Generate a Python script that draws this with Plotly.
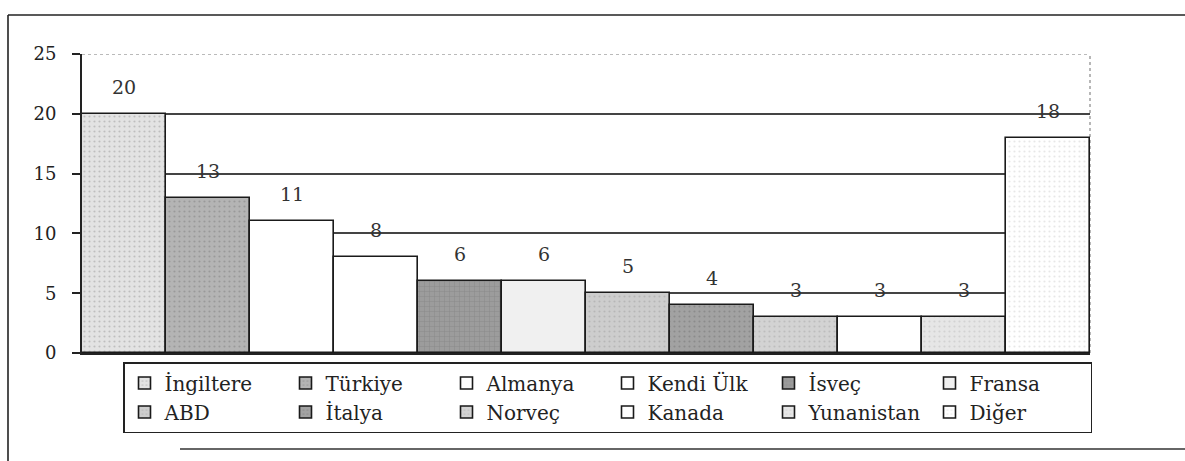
import plotly.graph_objects as go

# Countries and counts
countries = ["İngiltere", "Türkiye", "Almanya", "Kendi Ülk", "İsveç", "Fransa",
             "ABD", "İtalya", "Norveç", "Kanada", "Yunanistan", "Diğer"]
counts = [20, 13, 11, 8, 6, 6, 5, 4, 3, 3, 3, 18]
y_ticks = [0, 5, 10, 15, 20, 25]

# Fill styling per country: (base colour, pattern shape, pattern colour)
fills = [
    ("#e3e3e3", ".", "#9a9a9a"),
    ("#b4b4b4", ".", "#7d7d7d"),
    ("#ffffff", "", "#ffffff"),
    ("#ffffff", "", "#ffffff"),
    ("#9c9c9c", "+", "#6c6c6c"),
    ("#f0f0f0", "", "#f0f0f0"),
    ("#cdcdcd", ".", "#a0a0a0"),
    ("#a2a2a2", ".", "#747474"),
    ("#d3d3d3", ".", "#a8a8a8"),
    ("#ffffff", "", "#ffffff"),
    ("#e6e6e6", ".", "#bdbdbd"),
    ("#ffffff", ".", "#cfcfcf"),
]

W, H = 1185, 461
ML, MR, MT, MB = 82, 95, 54, 108
PW, PH = W - ML - MR, H - MT - MB


def px(x):
    return (x - ML) / PW


def py(y):
    return (H - MB - y) / PH


SERIF = "DejaVu Serif"

fig = go.Figure()
for name, val, (col, shp, fg) in zip(countries, counts, fills):
    fig.add_trace(go.Bar(
        x=[name], y=[val], name=name,
        marker=dict(color=col,
                    line=dict(color="#1a1a1a", width=1.6),
                    pattern=dict(shape=shp, fgcolor=fg, size=5, solidity=0.15)),
    ))

# Value labels above each bar
for name, val in zip(countries, counts):
    fig.add_annotation(x=name, y=val, text=str(val), showarrow=False,
                       yshift=27, font=dict(family=SERIF, size=19, color="#333333"))

shapes = [
    # back wall top (dotted) and right edge (dotted)
    dict(type="line", xref="paper", yref="y", x0=0, x1=1, y0=25, y1=25,
         line=dict(color="#777777", width=1.2, dash="dot"), layer="below"),
    dict(type="line", xref="paper", yref="paper", x0=1, x1=1, y0=0, y1=1,
         line=dict(color="#888888", width=1.2, dash="dot"), layer="below"),
    # outer frame
    dict(type="line", xref="paper", yref="paper", x0=px(8), x1=px(W), y0=py(15), y1=py(15),
         line=dict(color="#222222", width=1.6)),
    dict(type="line", xref="paper", yref="paper", x0=px(8), x1=px(8), y0=py(15), y1=py(H),
         line=dict(color="#222222", width=1.6)),
    dict(type="line", xref="paper", yref="paper", x0=px(180), x1=px(W), y0=py(449), y1=py(449),
         line=dict(color="#333333", width=1.4)),
]

fig.update_layout(
    width=W, height=H,
    margin=dict(l=ML, r=MR, t=MT, b=MB),
    paper_bgcolor="white", plot_bgcolor="white",
    barmode="overlay", bargap=0,
    showlegend=True,
    legend=dict(orientation="h", x=px(123), y=py(362), xanchor="left", yanchor="top",
                entrywidth=116, entrywidthmode="pixels",
                bordercolor="#222222", borderwidth=1.5,
                font=dict(family=SERIF, size=20, color="#222222"),
                traceorder="normal", itemclick=False),
    shapes=shapes,
    font=dict(family=SERIF, color="#222222"),
)
fig.update_xaxes(showticklabels=False, ticks="", showgrid=False,
                 showline=True, linecolor="#222222", linewidth=1.6,
                 categoryorder="array", categoryarray=countries)
fig.update_yaxes(range=[0, 25], tickvals=y_ticks, ticks="outside", ticklen=8,
                 tickcolor="#222222", tickwidth=1.5,
                 showline=True, linecolor="#222222", linewidth=1.8,
                 showgrid=True, gridcolor="#444444", gridwidth=1.5,
                 zeroline=False, ticklabelstandoff=12,
                 tickfont=dict(family=SERIF, size=18, color="#222222"))

fig.write_html("out.html")
